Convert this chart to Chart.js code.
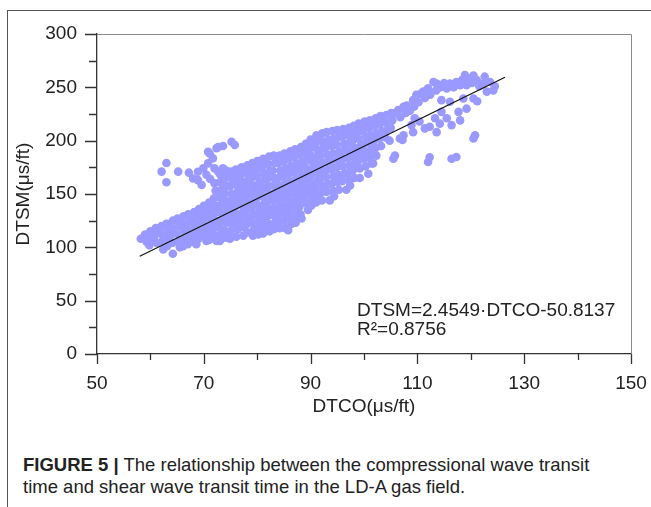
<!DOCTYPE html>
<html>
<head>
<meta charset="utf-8">
<script src="https://cdn.jsdelivr.net/npm/chart.js@4.4.1/dist/chart.umd.min.js"></script>
<style>
  body { margin: 0; background: #fff; width: 651px; height: 507px; overflow: hidden; position: relative; font-family: "Liberation Sans", Arial, sans-serif; }
  #frame { position: absolute; left: 7px; top: 10px; width: 660px; height: 520px; border-left: 1px solid #555; border-top: 1px solid #555; }
  #chartBox { position: absolute; left: 0; top: 0; width: 651px; height: 420px; }
  #caption { position: absolute; left: 23px; top: 454px; font-size: 18.5px; line-height: 22px; color: #222; white-space: nowrap; }
  #caption b { font-weight: bold; }
</style>
</head>
<body>
<div id="frame"></div>
<div id="chartBox"><canvas id="scatterChart" width="651" height="420"></canvas></div>
<div id="caption"><b>FIGURE 5 |</b> The relationship between the compressional wave transit<br>time and shear wave transit time in the LD-A gas field.</div>

<script>
// ข้อมูล DTCO / DTSM อ่านจากภาพ  [DTCO, DTSM]
const lowerBand = [
  [58.2,108],[59.0,112],[59.3,105],[60.0,115],[60.2,108],[59.8,102],
  [61.0,118],[60.8,111],[61.2,104],[62.1,120],[61.9,113],[62.2,106],[62.4,98],
  [63.0,122],[63.2,115],[62.9,108],[63.1,101],[64.2,125],[64.0,118],[63.8,111],[64.1,104],[64.2,94],
  [65.1,127],[65.3,120],[64.9,113],[65.2,106],[65.5,100],[66.2,129],[66.0,122],[66.3,115],[65.9,108],[66.1,101],
  [67.1,131],[67.3,124],[66.9,117],[67.2,110],[67.0,103],[68.2,133],[68.0,126],[68.3,119],[67.9,112],[68.2,105],[68.6,103],
  [69.1,136],[69.3,129],[68.9,122],[69.2,115],[69.0,108],[70.0,139],[70.2,132],[69.9,125],[70.3,118],[70.1,111],[70.5,106],
  [71.0,142],[71.2,135],[70.9,128],[71.3,121],[71.1,114],[71.0,107]
];

const mainCloud = [
  [72.0,160],[72.2,153],[71.9,146],[72.3,139],[72.0,132],[72.2,125],[71.9,118],[72.1,111],[72.4,106],
  [73.1,168],[73.0,161],[73.3,154],[72.9,147],[73.2,140],[73.0,133],[73.3,126],[72.9,119],[73.1,112],[73.0,106],
  [74.2,172],[74.0,165],[74.3,158],[73.9,151],[74.1,144],[74.3,137],[74.0,130],[74.2,123],[73.9,116],[74.1,109],
  [75.1,171],[75.3,164],[74.9,157],[75.2,150],[75.0,143],[75.3,136],[74.9,129],[75.2,122],[75.0,115],[74.9,108],
  [76.0,173],[76.2,166],[75.9,159],[76.3,152],[76.1,145],[75.9,138],[76.2,131],[76.0,124],[76.3,117],[76.1,110],
  [77.1,175],[77.0,168],[77.3,161],[76.9,154],[77.2,147],[77.0,140],[77.3,133],[76.9,126],[77.1,119],[77.4,111],
  [78.2,177],[78.0,170],[78.3,163],[77.9,156],[78.1,149],[78.3,142],[78.0,135],[78.2,128],[77.9,121],[78.1,114],
  [79.1,179],[79.3,172],[78.9,165],[79.2,158],[79.0,151],[79.3,144],[78.9,137],[79.2,130],[79.0,123],[79.3,116],[79.2,111],
  [80.0,181],[80.2,174],[79.9,167],[80.3,160],[80.1,153],[79.9,146],[80.2,139],[80.0,132],[80.3,125],[80.1,118],[80.2,112],
  [81.1,183],[81.0,176],[81.3,169],[80.9,162],[81.2,155],[81.0,148],[81.3,141],[80.9,134],[81.1,127],[81.3,120],[81.1,113],
  [82.2,185],[82.0,178],[82.3,171],[81.9,164],[82.1,157],[82.3,150],[82.0,143],[82.2,136],[81.9,129],[82.1,122],[82.3,115],
  [83.1,186],[83.3,179],[82.9,172],[83.2,165],[83.0,158],[83.3,151],[82.9,144],[83.2,137],[83.0,130],[83.3,123],[83.1,117],
  [84.2,186],[84.0,179],[84.3,172],[83.9,165],[84.1,158],[84.3,151],[84.0,144],[84.2,137],[83.9,130],[84.1,124],[84.2,118],
  [85.1,188],[85.0,181],[85.3,174],[84.9,167],[85.2,160],[85.0,153],[85.3,146],[84.9,139],[85.2,132],[85.0,125],[85.3,118],
  [86.2,190],[86.0,183],[86.3,176],[85.9,169],[86.1,162],[86.3,155],[86.0,148],[86.2,141],[85.9,134],[86.1,127],[86.4,122],[85.8,116],
  [87.1,192],[87.0,185],[87.3,178],[86.9,171],[87.2,164],[87.0,157],[87.3,150],[86.9,143],[87.2,136],[87.0,129],[87.2,123],
  [88.2,194],[88.0,187],[88.3,180],[87.9,173],[88.1,166],[88.3,159],[88.0,152],[88.2,145],[87.9,138],[88.1,131],[88.3,127],
  [89.1,197],[89.0,190],[89.3,183],[88.9,176],[89.2,169],[89.0,162],[89.3,155],[88.9,148],[89.2,141],[89.5,135],
  [90.0,201],[90.2,194],[89.9,187],[90.3,180],[90.1,173],[89.9,166],[90.2,159],[90.0,152],[90.3,145],[90.1,139],
  [91.1,205],[91.0,198],[91.3,191],[90.9,184],[91.2,177],[91.0,170],[91.3,163],[90.9,156],[91.2,149],[91.0,142],
  [92.2,207],[92.0,200],[92.3,193],[91.9,186],[92.1,179],[92.3,172],[92.0,165],[92.2,158],[91.9,151],[92.1,144],
  [93.0,208],[93.3,201],[92.9,194],[93.2,187],[93.0,180],[93.3,173],[92.9,166],[93.2,159],[93.0,152],[93.6,144],
  [94.1,209],[94.3,202],[94.0,195],[94.2,188],[93.9,181],[94.1,174],[94.3,167],[94.0,160],[94.2,153],[94.4,148],
  [95.0,210],[95.2,203],[94.9,196],[95.3,189],[95.1,182],[94.9,175],[95.2,168],[95.0,161],[95.3,154],
  [96.1,211],[96.0,204],[96.3,197],[95.9,190],[96.2,183],[96.0,176],[96.3,169],[95.9,162],[96.7,154],
  [97.2,212],[97.0,205],[97.3,198],[96.9,191],[97.1,184],[97.3,177],[97.0,170],[97.2,163],[97.4,158],
  [98.1,214],[98.3,207],[97.9,200],[98.2,193],[98.0,186],[98.3,179],[97.9,172],[98.2,165],
  [99.0,216],[99.2,209],[98.9,202],[99.3,195],[99.1,188],[98.9,181],[99.2,174],[99.2,165],
  [100.1,218],[100.0,211],[100.3,204],[99.9,197],[100.2,190],[100.0,183],[100.3,176],[100.8,169],
  [101.1,219],[101.0,212],[101.3,205],[100.9,198],[101.2,191],[101.0,184],[101.7,178.7],
  [102.2,221],[102.0,214],[102.3,207],[101.9,200],[102.1,193],[102.3,186],[101.7,188],
  [103.1,223],[103.0,216],[103.3,209],[102.9,202],[103.2,195],
  [104.2,224],[104.0,217],[104.3,210],[104.0,203],[104.8,200],
  [105.1,226],[105.3,219],[105.0,212],[105.5,225.5]
];

const upperLeftBranch = [
  [63.0,179],[62.1,171],[65.2,171],[63.0,161],[67.2,170],[68.0,164.6],[68.9,163],[69.6,158.4],
  [68.9,170.9],[69.9,174],[70.8,178.7],[71.1,188],[71.7,183.4],[72.4,193],[72.7,194],[73.6,195],
  [75.2,199],[75.8,196],[72.0,174],[72.7,171],[74.2,169],[75.2,166],[76.7,169],[78.3,172.5],
  [76.7,160],[70.5,168],[71.2,164],[70.8,189.6],[73.6,174]
];

const upperRightBranch = [
  [106.4,228.7],[106.8,222],[107.4,231.8],[107.8,226],[108.0,233],[108.6,228],[109.2,238],[109.4,232],
  [109.8,243],[110.2,236],[110.6,244],[111.1,246],[111.4,240],[112.0,249],[112.4,243],[113.0,255],
  [113.6,253.5],[113.5,247],[114.3,250],[115.0,254],[115.5,249],[116.1,253.5],[116.8,250],[117.3,255],
  [118.0,252],[118.9,261.5],[119.2,252],[119.6,258],[120.2,254],[121.1,256.8],[121.6,251],[122.6,260],
  [123.0,246],[123.6,255],[124.2,247],[124.5,251],[122.3,253],[120.5,261],[118.4,257]
];

const lowerRightScatter = [
  [114.5,238],[116.1,236.5],[118.6,239.6],[119.2,230],[120.5,239.6],[121.2,237],[117.7,227],[114.5,227],
  [113.3,221],[114.2,216],[116.4,214.6],[118.0,219],[115.5,221],[112.3,213],[111.4,211.5],[113.6,208],
  [109.2,208],[106.7,202],[109.5,221],[108.9,214.6],[110.4,218],[107.4,205],[120.8,205],[120.5,202],
  [105.8,186],[105.5,183],[112.3,184.5],[112.0,180],[116.4,183],[117.3,184.7],[101.4,178.7],[107.2,200.6]
];

// เส้นถดถอย DTSM = 2.4549·DTCO - 50.8137 (ปลายเส้นอ่านจากภาพ)
const fitLine = [[58.0, 91.6], [126.4, 259.5]];

const xTicks = { min: 50, max: 150, step: 10, labelEvery: 20 };
const yTicks = { min: 0, max: 300, step: 25, labelEvery: 50 };

const fontFamily = '"Liberation Sans", Arial, sans-serif';
const pointColor = 'rgb(153,153,255)';

function toXY(arr) {
    return arr.map(p => ({ x: p[0], y: p[1] }));
}

// วาดขีดสเกล (ยาว/สั้น), กรอบพล็อตด้านบน-ขวา และสมการ
const axisDecor = {
    id: 'axisDecor',
    afterDraw(chart) {
        const ctx = chart.ctx;
        const area = chart.chartArea;
        const xs = chart.scales.x;
        const ys = chart.scales.y;
        ctx.save();
        // กรอบบน/ขวา
        ctx.strokeStyle = '#8a8a8a';
        ctx.lineWidth = 1;
        ctx.beginPath();
        ctx.moveTo(area.left, area.top + 0.5);
        ctx.lineTo(area.right + 0.5, area.top + 0.5);
        ctx.lineTo(area.right + 0.5, area.bottom);
        ctx.stroke();

        ctx.strokeStyle = '#333';
        ctx.lineWidth = 1.3;
        ctx.beginPath();
        xs.ticks.forEach(t => {
            const px = Math.round(xs.getPixelForValue(t.value)) + 0.5;
            const major = (t.value - xTicks.min) % xTicks.labelEvery === 0;
            ctx.moveTo(px, area.bottom);
            ctx.lineTo(px, area.bottom + (major ? 10 : 6));
        });
        ys.ticks.forEach(t => {
            const py = Math.round(ys.getPixelForValue(t.value)) + 0.5;
            const major = t.value % yTicks.labelEvery === 0;
            ctx.moveTo(area.left, py);
            ctx.lineTo(area.left - (major ? 12 : 8), py);
        });
        ctx.stroke();

        // สมการ
        ctx.fillStyle = '#222';
        ctx.font = '19px ' + fontFamily;
        ctx.textBaseline = 'middle';
        ctx.textAlign = 'left';
        const tx = xs.getPixelForValue(98.7);
        ctx.fillText('DTSM=2.4549\u00b7DTCO-50.8137', tx, ys.getPixelForValue(40.6));
        ctx.fillText('R\u00b2=0.8756', tx, ys.getPixelForValue(22.5));
        ctx.restore();
    }
};

function initializeScatterChart() {
    const ctx = document.getElementById('scatterChart').getContext('2d');
    const pts = [].concat(lowerBand, mainCloud, upperLeftBranch, upperRightBranch, lowerRightScatter);
    new Chart(ctx, {
        type: 'scatter',
        data: {
            datasets: [{
                type: 'line',
                data: toXY(fitLine),
                borderColor: '#111',
                borderWidth: 1.2,
                pointRadius: 0,
                order: 0
            }, {
                data: toXY(pts),
                backgroundColor: pointColor,
                borderWidth: 0,
                pointRadius: 4.3,
                order: 1
            }]
        },
        options: {
            responsive: false,
            animation: false,
            devicePixelRatio: 1,
            layout: { padding: { top: 34, right: 20, bottom: 0, left: 0 } },
            plugins: { legend: { display: false }, tooltip: { enabled: false } },
            scales: {
                x: {
                    type: 'linear',
                    min: xTicks.min, max: xTicks.max,
                    afterFit: s => { s.height = 66; s.paddingLeft = 0; s.paddingRight = 0; },
                    grid: { display: false, drawTicks: false },
                    border: { display: true, color: '#333', width: 1.3 },
                    ticks: {
                        stepSize: xTicks.step,
                        autoSkip: false,
                        maxRotation: 0,
                        padding: 18,
                        color: '#222',
                        font: { family: fontFamily, size: 19 },
                        callback: v => ((v - xTicks.min) % xTicks.labelEvery === 0 ? String(v) : '')
                    },
                    title: {
                        display: true,
                        text: 'DTCO(\u03bcs/ft)',
                        color: '#222',
                        font: { family: fontFamily, size: 19 },
                        padding: { top: 0, bottom: 2 }
                    }
                },
                y: {
                    type: 'linear',
                    min: yTicks.min, max: yTicks.max,
                    afterFit: s => { s.width = 97; s.paddingTop = 0; s.paddingBottom = 0; },
                    grid: { display: false, drawTicks: false },
                    border: { display: true, color: '#333', width: 1.3 },
                    ticks: {
                        stepSize: yTicks.step,
                        autoSkip: false,
                        padding: 20,
                        color: '#222',
                        font: { family: fontFamily, size: 19 },
                        callback: v => (v % yTicks.labelEvery === 0 ? String(v) : '')
                    },
                    title: {
                        display: true,
                        text: 'DTSM(\u03bcs/ft)',
                        color: '#222',
                        font: { family: fontFamily, size: 19 },
                        padding: { top: 12, bottom: 0 }
                    }
                }
            }
        },
        plugins: [axisDecor]
    });
}

document.addEventListener('DOMContentLoaded', () => {
    initializeScatterChart();
});
</script>
</body>
</html>
